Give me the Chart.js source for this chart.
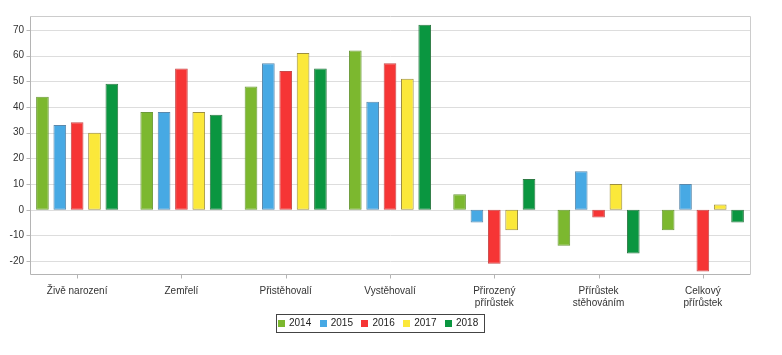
<!DOCTYPE html>
<html>
<head>
<meta charset="utf-8">
<script src="https://cdn.jsdelivr.net/npm/chart.js@4"></script>
<style>
html,body{margin:0;padding:0;background:#fff;}
#wrap{width:782px;height:355px;}
</style>
</head>
<body>
<div id="wrap"><canvas id="c" width="782" height="355"></canvas></div>
<script>
const categories = [
  "Živě narození",
  "Zemřelí",
  "Přistěhovalí",
  "Vystěhovalí",
  ["Přirozený", "přírůstek"],
  ["Přírůstek", "stěhováním"],
  ["Celkový", "přírůstek"]
];
const years = ["2014", "2015", "2016", "2017", "2018"];
const v2014 = [44, 38, 48, 62, 6, -14, -8];
const v2015 = [33, 38, 57, 42, -5, 15, 10];
const v2016 = [34, 55, 54, 57, -21, -3, -24];
const v2017 = [30, 38, 61, 51, -8, 10, 2];
const v2018 = [49, 37, 55, 72, 12, -17, -5];
const yTicks = [-20, -10, 0, 10, 20, 30, 40, 50, 60, 70];

const fills = ["#7cb82f", "#47a9e4", "#f63535", "#fbe83a", "#0a9640"];
const borders = ["#6c9a3a", "#5a88ab", "#c84a4a", "#9c8e40", "#2f7a45"];
const series = [v2014, v2015, v2016, v2017, v2018];

const FONT = "'Liberation Sans', Arial, sans-serif";
const AXIS_X = 30.5;   // visible y-axis line
const FRAME_R = 750.5; // visible right border

const frame = {
  id: "frame",
  beforeDatasetsDraw(chart) {
    const a = chart.chartArea, ctx = chart.ctx;
    const ys = chart.scales.y, xs = chart.scales.x;
    ctx.save();
    ctx.lineWidth = 1;
    ctx.strokeStyle = "#dddddd";
    yTicks.forEach(v => {
      const y = Math.round(ys.getPixelForValue(v)) + 0.5;
      ctx.beginPath(); ctx.moveTo(AXIS_X, y); ctx.lineTo(FRAME_R, y); ctx.stroke();
    });
    ctx.strokeStyle = "#b8b8b8";
    yTicks.forEach(v => {
      const y = Math.round(ys.getPixelForValue(v)) + 0.5;
      ctx.beginPath(); ctx.moveTo(AXIS_X - 4, y); ctx.lineTo(AXIS_X, y); ctx.stroke();
    });
    ctx.strokeStyle = "#cccccc";
    ctx.beginPath();
    ctx.moveTo(AXIS_X, a.top - 0.5);
    ctx.lineTo(FRAME_R, a.top - 0.5);
    ctx.lineTo(FRAME_R, a.bottom);
    ctx.stroke();
    ctx.strokeStyle = "#b4b4b4";
    const yb = Math.round(a.bottom) + 0.5;
    ctx.beginPath();
    ctx.moveTo(AXIS_X, a.top - 0.5);
    ctx.lineTo(AXIS_X, yb);
    ctx.lineTo(FRAME_R, yb);
    ctx.stroke();
    categories.forEach((c, i) => {
      const x = Math.round(xs.getPixelForValue(i)) + 0.5;
      ctx.beginPath(); ctx.moveTo(x, yb); ctx.lineTo(x, yb + 4); ctx.stroke();
    });
    ctx.restore();
  },
  afterDraw(chart) {
    const ctx = chart.ctx;
    const ds = chart.data.datasets;
    ctx.save();
    ctx.font = "10px " + FONT;
    ctx.textBaseline = "middle";
    const box = 7, gapT = 4, gapI = 8.5;
    const widths = ds.map(d => box + gapT + ctx.measureText(d.label).width);
    const total = widths.reduce((s, w) => s + w, 0) + gapI * (ds.length - 1);
    const padL = 2, padR = 6;
    const boxW = Math.round(total + padL + padR);
    const left = Math.round(379.5 - boxW / 2);
    const top = 314, h = 18, cy = top + h / 2;
    ctx.strokeStyle = "#444";
    ctx.lineWidth = 1;
    ctx.strokeRect(left + 0.5, top + 0.5, boxW, h);
    let x = left + padL;
    ds.forEach((d, i) => {
      ctx.fillStyle = d.backgroundColor;
      ctx.fillRect(Math.round(x), Math.round(cy - box / 2), box, box);
      ctx.fillStyle = "#222";
      ctx.fillText(d.label, x + box + gapT, cy + 0.5);
      x += widths[i] + gapI;
    });
    ctx.restore();
  }
};

new Chart(document.getElementById("c"), {
  type: "bar",
  data: {
    labels: categories,
    datasets: series.map((s, i) => ({
      label: years[i],
      data: s,
      backgroundColor: fills[i],
      borderColor: borders[i],
      borderWidth: 1,
      borderSkipped: false,
      categoryPercentage: 0.832,
      barPercentage: 0.73
    }))
  },
  options: {
    responsive: false,
    animation: false,
    layout: { padding: { left: 0, right: 27, top: 17, bottom: 42 } },
    plugins: {
      tooltip: { enabled: false },
      legend: { display: false }
    },
    scales: {
      x: {
        grid: { display: false, drawTicks: false },
        border: { display: false },
        ticks: { font: { family: FONT, size: 10 }, color: "#333", padding: 11, maxRotation: 0, autoSkip: false },
        afterFit(scale) { scale.height = 39; }
      },
      y: {
        min: -25,
        max: 75,
        afterBuildTicks(scale) { scale.ticks = yTicks.map(v => ({ value: v })); },
        grid: { display: false, drawTicks: false },
        border: { display: false },
        ticks: { font: { family: FONT, size: 10 }, color: "#333", padding: 1 },
        afterFit(scale) { scale.width = 25; }
      }
    }
  },
  plugins: [frame]
});
</script>
</body>
</html>
